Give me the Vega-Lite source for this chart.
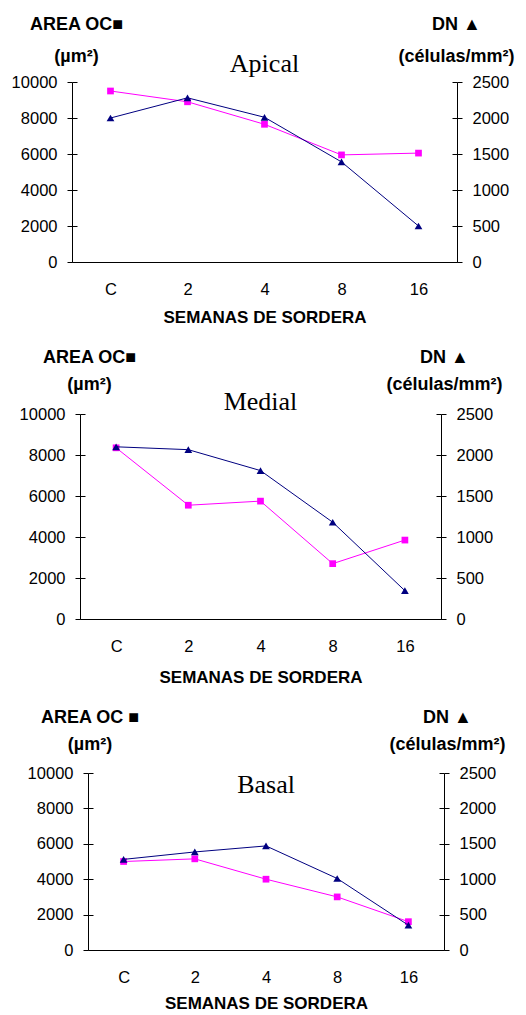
{
  "$schema": "https://vega.github.io/schema/vega-lite/v6.json",
  "padding": {"left": 8, "top": 15, "right": 0, "bottom": 0},
  "background": "white",
  "config": {
    "view": {"stroke": null},
    "font": "Liberation Sans",
    "axis": {
      "labelFont": "Liberation Sans", "labelFontSize": 16.5, "labelColor": "#000",
      "titleFont": "Liberation Sans", "titleFontSize": 18, "titleFontWeight": "bold", "titleColor": "#000",
      "domainColor": "#000", "tickColor": "#000", "grid": false, "tickSize": 5, "labelPadding": 10,
      "gridColor": "#000", "gridOpacity": 1, "gridDash": [5, 3000]
    },
    "axisX": {"titleFontSize": 17},
    "title": {"font": "Liberation Serif", "fontSize": 26, "fontWeight": "normal", "color": "#000", "anchor": "middle"}
  },
  "spacing": 22,
  "vconcat": [
    {
      "hconcat": [
        {"width": 1, "height": 10, "view": {"stroke": "transparent"}, "data": {"values": []}, "mark": "point"},
        {
          "width": 385, "height": 180,
          "title": {"text": "Apical", "offset": -62},
          "data": {"values": [
            {"semana": "C", "area": 9500, "dn": 2000},
            {"semana": "2", "area": 8900, "dn": 2280},
            {"semana": "4", "area": 7650, "dn": 2010},
            {"semana": "8", "area": 5950, "dn": 1390},
            {"semana": "16", "area": 6050, "dn": 500}
          ]},
          "encoding": {
            "x": {"field": "semana", "type": "ordinal", "sort": ["C", "2", "4", "8", "16"],
                  "scale": {"type": "point", "padding": 0.5},
                  "axis": {"title": "SEMANAS DE SORDERA", "labelAngle": 0, "ticks": false, "labelPadding": 19, "titlePadding": 12}}
          },
          "layer": [
            {"mark": {"type": "line", "color": "#ff00ff", "strokeWidth": 1, "point": {"shape": "square", "size": 45, "filled": true, "color": "#ff00ff"}},
             "encoding": {"y": {"field": "area", "type": "quantitative", "scale": {"domain": [0, 10000]},
                "axis": {"orient": "left", "values": [0, 2000, 4000, 6000, 8000, 10000], "format": "d", "grid": true, "title": ["AREA OC■", "(µm²)"],
                  "titleAngle": 0, "titleAlign": "center", "titleBaseline": "alphabetic", "titleX": 4, "titleY": -53, "titleLineHeight": 32}}}},
            {"mark": {"type": "line", "color": "#000080", "strokeWidth": 1, "point": {"shape": "triangle-up", "size": 60, "filled": true, "color": "#000080"}},
             "encoding": {"y": {"field": "dn", "type": "quantitative", "scale": {"domain": [0, 2500]},
                "axis": {"orient": "right", "values": [0, 500, 1000, 1500, 2000, 2500], "format": "d", "grid": true, "title": ["DN ▲", "(células/mm²)"],
                  "titleAngle": 0, "titleAlign": "center", "titleBaseline": "alphabetic", "titleX": -1, "titleY": -53, "titleLineHeight": 32}}}}
          ],
          "resolve": {"scale": {"y": "independent"}}
        }
      ],
      "spacing": 0
    },
    {
      "hconcat": [
        {"width": 9, "height": 10, "view": {"stroke": "transparent"}, "data": {"values": []}, "mark": "point"},
        {
          "width": 361, "height": 205,
          "title": {"text": "Medial", "offset": -67},
          "data": {"values": [
            {"semana": "C", "area": 8350, "dn": 2100},
            {"semana": "2", "area": 5550, "dn": 2065},
            {"semana": "4", "area": 5750, "dn": 1810},
            {"semana": "8", "area": 2700, "dn": 1180},
            {"semana": "16", "area": 3850, "dn": 345}
          ]},
          "encoding": {
            "x": {"field": "semana", "type": "ordinal", "sort": ["C", "2", "4", "8", "16"],
                  "scale": {"type": "point", "padding": 0.5},
                  "axis": {"title": "SEMANAS DE SORDERA", "labelAngle": 0, "ticks": false, "labelPadding": 19, "titlePadding": 15}}
          },
          "layer": [
            {"mark": {"type": "line", "color": "#ff00ff", "strokeWidth": 1, "point": {"shape": "square", "size": 45, "filled": true, "color": "#ff00ff"}},
             "encoding": {"y": {"field": "area", "type": "quantitative", "scale": {"domain": [0, 10000]},
                "axis": {"orient": "left", "values": [0, 2000, 4000, 6000, 8000, 10000], "format": "d", "grid": true, "title": ["AREA OC■", "(µm²)"],
                  "titleAngle": 0, "titleAlign": "center", "titleBaseline": "alphabetic", "titleX": 9, "titleY": -52, "titleLineHeight": 27}}}},
            {"mark": {"type": "line", "color": "#000080", "strokeWidth": 1, "point": {"shape": "triangle-up", "size": 60, "filled": true, "color": "#000080"}},
             "encoding": {"y": {"field": "dn", "type": "quantitative", "scale": {"domain": [0, 2500]},
                "axis": {"orient": "right", "values": [0, 500, 1000, 1500, 2000, 2500], "format": "d", "grid": true, "title": ["DN ▲", "(células/mm²)"],
                  "titleAngle": 0, "titleAlign": "center", "titleBaseline": "alphabetic", "titleX": 3, "titleY": -52, "titleLineHeight": 27}}}}
          ],
          "resolve": {"scale": {"y": "independent"}}
        }
      ],
      "spacing": 0
    },
    {
      "hconcat": [
        {"width": 17, "height": 10, "view": {"stroke": "transparent"}, "data": {"values": []}, "mark": "point"},
        {
          "width": 356, "height": 177,
          "title": {"text": "Basal", "offset": -90},
          "data": {"values": [
            {"semana": "C", "area": 5000, "dn": 1280},
            {"semana": "2", "area": 5150, "dn": 1385},
            {"semana": "4", "area": 4000, "dn": 1470},
            {"semana": "8", "area": 3000, "dn": 1010},
            {"semana": "16", "area": 1600, "dn": 350}
          ]},
          "encoding": {
            "x": {"field": "semana", "type": "ordinal", "sort": ["C", "2", "4", "8", "16"],
                  "scale": {"type": "point", "padding": 0.5},
                  "axis": {"title": "SEMANAS DE SORDERA", "labelAngle": 0, "ticks": false, "labelPadding": 19, "titlePadding": 10}}
          },
          "layer": [
            {"mark": {"type": "line", "color": "#ff00ff", "strokeWidth": 1, "point": {"shape": "square", "size": 45, "filled": true, "color": "#ff00ff"}},
             "encoding": {"y": {"field": "area", "type": "quantitative", "scale": {"domain": [0, 10000]},
                "axis": {"orient": "left", "values": [0, 2000, 4000, 6000, 8000, 10000], "format": "d", "grid": true, "title": ["AREA OC ■", "(µm²)"],
                  "titleAngle": 0, "titleAlign": "center", "titleBaseline": "alphabetic", "titleX": 1.5, "titleY": -51, "titleLineHeight": 27}}}},
            {"mark": {"type": "line", "color": "#000080", "strokeWidth": 1, "point": {"shape": "triangle-up", "size": 60, "filled": true, "color": "#000080"}},
             "encoding": {"y": {"field": "dn", "type": "quantitative", "scale": {"domain": [0, 2500]},
                "axis": {"orient": "right", "values": [0, 500, 1000, 1500, 2000, 2500], "format": "d", "grid": true, "title": ["DN ▲", "(células/mm²)"],
                  "titleAngle": 0, "titleAlign": "center", "titleBaseline": "alphabetic", "titleX": 3, "titleY": -51, "titleLineHeight": 27}}}}
          ],
          "resolve": {"scale": {"y": "independent"}}
        }
      ],
      "spacing": 0
    }
  ]
}
